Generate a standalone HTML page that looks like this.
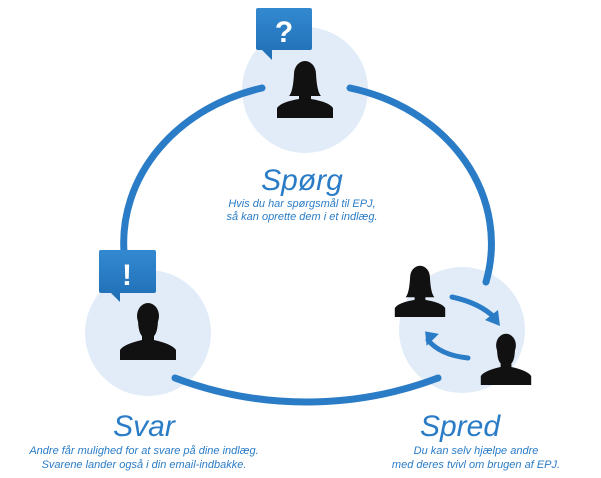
<!DOCTYPE html>
<html><head><meta charset="utf-8"><style>
body{margin:0;background:#fff;width:601px;height:478px;overflow:hidden}
svg{display:block}
.t{font-family:"Comic Sans MS","Liberation Sans",sans-serif;fill:#2a7cc7;font-style:italic}
</style></head><body>
<svg width="601" height="478" viewBox="0 0 601 478">
<defs><linearGradient id="g" x1="0" y1="0" x2="0" y2="1"><stop offset="0" stop-color="#3389d0"/><stop offset="1" stop-color="#1f6eb5"/></linearGradient>
<g id="m"><ellipse cx="0" cy="-14" rx="11" ry="13"/><path d="M-10,-12 Q-10,2 -6,6 L-6,10 Q-24,14 -28,20 L-28,30 L28,30 L28,20 Q24,14 6,10 L6,6 Q10,2 10,-12 Z"/></g>
<g id="f"><ellipse cx="0" cy="-14" rx="11" ry="13"/><path d="M-11,-14 Q-12,4 -16,8 L-6,8 L-6,11 Q-24,14 -28,20 L-28,30 L28,30 L28,20 Q24,14 6,11 L6,8 L16,8 Q12,4 11,-14 Z"/></g>
</defs>
<circle cx="305" cy="90" r="63" fill="#e1ecf8"/>
<circle cx="148" cy="333" r="63" fill="#e1ecf8"/>
<circle cx="462" cy="330" r="63" fill="#e1ecf8"/>
<g fill="none" stroke="#2a7cc7" stroke-width="7" stroke-linecap="round">
<path d="M262,88 A185,160 0 0 0 124,252"/>
<path d="M350,88 A185,160 0 0 1 486,282"/>
<path d="M175,378 A372,372 0 0 0 438,378"/>
<path d="M452,297 Q480,303 495,318" stroke-width="5"/>
<path d="M468,358 Q440,355 428,340" stroke-width="5"/>
</g>
<polygon points="500,326 485,320 498,310" fill="#2a7cc7"/>
<polygon points="424,332 438,332 428,346" fill="#2a7cc7" transform="rotate(10 428 338)"/>
<path d="M258,8 h52 a2,2 0 0 1 2,2 v38 a2,2 0 0 1 -2,2 h-30 l-4,-0 l-4,-0 v10 l-10,-10 h-4 a2,2 0 0 1 -2,-2 v-38 a2,2 0 0 1 2,-2 z" fill="url(#g)"/>
<text x="284" y="42" font-family="Liberation Sans,sans-serif" font-weight="bold" font-size="30" fill="#fff" text-anchor="middle">?</text>
<path d="M101,250 h53 a2,2 0 0 1 2,2 v39 a2,2 0 0 1 -2,2 h-34 v9 l-9,-9 h-10 a2,2 0 0 1 -2,-2 v-39 a2,2 0 0 1 2,-2 z" fill="url(#g)"/>
<text x="127" y="285" font-family="Liberation Sans,sans-serif" font-weight="bold" font-size="30" fill="#fff" text-anchor="middle">!</text>
<g fill="#111">
<use href="#f" transform="translate(305,88)"/>
<use href="#m" transform="translate(148,330)"/>
<use href="#f" transform="translate(420,290) scale(0.9)"/>
<use href="#m" transform="translate(506,358) scale(0.9)"/>
</g>
<text class="t" x="302" y="190" font-size="30" text-anchor="middle">Spørg</text>
<text class="t" x="302" y="207" font-size="11" text-anchor="middle">Hvis du har spørgsmål til EPJ,</text>
<text class="t" x="302" y="220" font-size="11" text-anchor="middle">så kan oprette dem i et indlæg.</text>
<text class="t" x="144" y="436" font-size="30" text-anchor="middle">Svar</text>
<text class="t" x="144" y="454" font-size="11" text-anchor="middle">Andre får mulighed for at svare på dine indlæg.</text>
<text class="t" x="144" y="468" font-size="11" text-anchor="middle">Svarene lander også i din email-indbakke.</text>
<text class="t" x="460" y="436" font-size="30" text-anchor="middle">Spred</text>
<text class="t" x="476" y="454" font-size="11" text-anchor="middle">Du kan selv hjælpe andre</text>
<text class="t" x="476" y="468" font-size="11" text-anchor="middle">med deres tvivl om brugen af EPJ.</text>
</svg>
</body></html>
